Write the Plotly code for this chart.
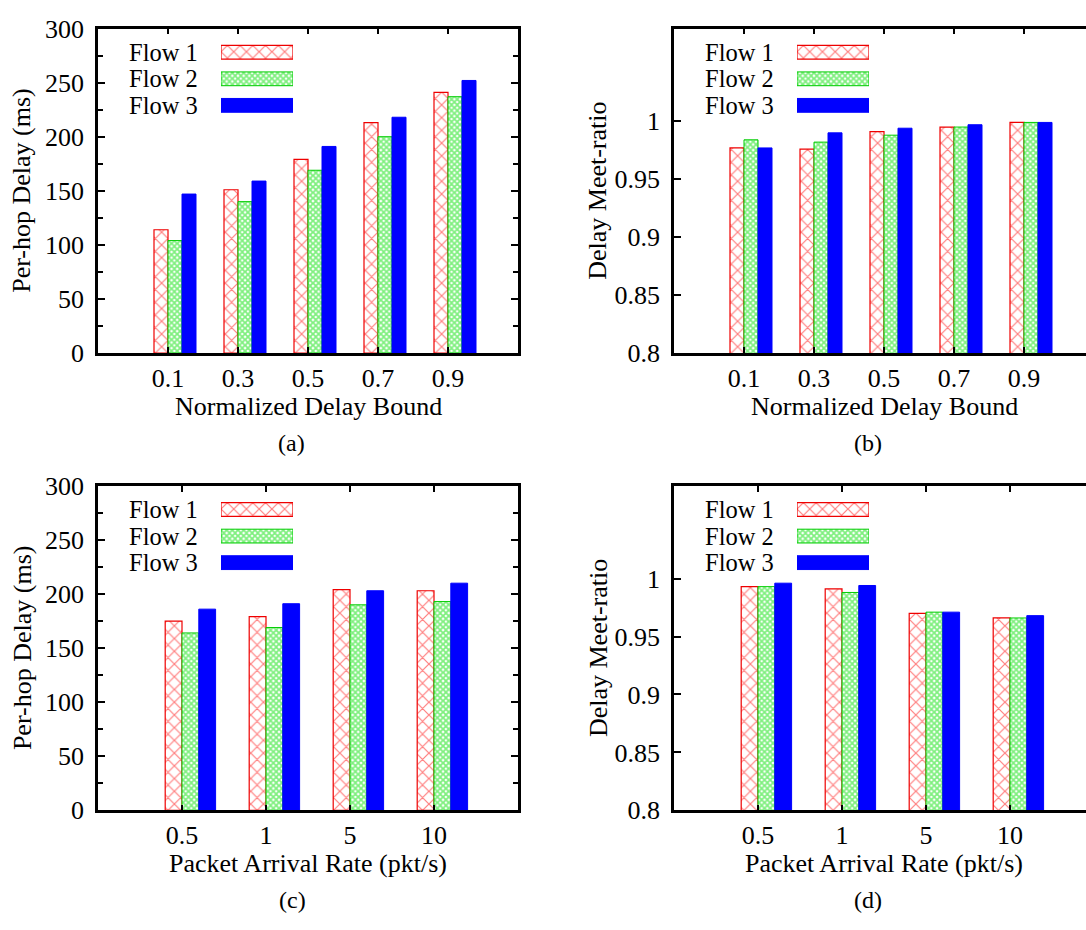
import plotly.graph_objects as go

W, H = 1086, 930
FONT = "Liberation Serif"
FS = 26
LEG_FS = 24.5

# ---------------- data ----------------
flow_names = ["Flow 1", "Flow 2", "Flow 3"]

bounds = ["0.1", "0.3", "0.5", "0.7", "0.9"]
a_flow1 = [114, 151, 179, 213, 241]
a_flow2 = [104, 140, 169, 200, 237]
a_flow3 = [147, 159, 191, 218, 252]

b_flow1 = [0.977, 0.976, 0.991, 0.995, 0.999]
b_flow2 = [0.984, 0.982, 0.988, 0.995, 0.999]
b_flow3 = [0.977, 0.990, 0.994, 0.997, 0.999]

rates = ["0.5", "1", "5", "10"]
c_flow1 = [175, 179, 204, 203]
c_flow2 = [164, 169, 190, 193]
c_flow3 = [186, 191, 203, 210]

d_flow1 = [0.993, 0.991, 0.970, 0.966]
d_flow2 = [0.993, 0.988, 0.971, 0.966]
d_flow3 = [0.996, 0.994, 0.971, 0.968]

delay_ticks = [0, 50, 100, 150, 200, 250, 300]
ratio_ticks = [0.8, 0.85, 0.9, 0.95, 1.0]
ratio_ticktext = ["0.8", "0.85", "0.9", "0.95", "1"]

# ---------------- styles ----------------
styles = [
    dict(color="white",
         pattern=dict(shape="x", fgcolor="#ff0000", bgcolor="white", size=9, solidity=0.25),
         line=dict(color="#ee0000", width=1.2)),
    dict(color="white",
         pattern=dict(shape="x", fgcolor="#00e000", bgcolor="white", size=4, solidity=0.7),
         line=dict(color="#00cc00", width=1)),
    dict(color="#0000ff", line=dict(color="#0000ff", width=1)),
]


def fx(px):
    return px / W


def fy(py):
    return 1 - py / H


panels = [
    dict(left=98, top=15, bottom=350, labels=bounds, series=[a_flow1, a_flow2, a_flow3],
         yrange=[0, 300], tickvals=delay_ticks, ticktext=[str(t) for t in delay_ticks], minor=25,
         ytitle="Per-hop Delay (ms)", xtitle="Normalized Delay Bound", caption="(a)",
         ytitle_x=22, caption_x=291, mirror_y=True),
    dict(left=674, top=15, bottom=350, labels=bounds, series=[b_flow1, b_flow2, b_flow3],
         yrange=[0.8, 1.08], tickvals=ratio_ticks, ticktext=ratio_ticktext, minor=None,
         ytitle="Delay Meet-ratio", xtitle="Normalized Delay Bound", caption="(b)",
         ytitle_x=598, caption_x=868, mirror_y=False),
    dict(left=98, top=487, bottom=822, labels=rates, series=[c_flow1, c_flow2, c_flow3],
         yrange=[0, 300], tickvals=delay_ticks, ticktext=[str(t) for t in delay_ticks], minor=25,
         ytitle="Per-hop Delay (ms)", xtitle="Packet Arrival Rate (pkt/s)", caption="(c)",
         ytitle_x=22, caption_x=292, mirror_y=True),
    dict(left=674, top=487, bottom=822, labels=rates, series=[d_flow1, d_flow2, d_flow3],
         yrange=[0.8, 1.08], tickvals=ratio_ticks, ticktext=ratio_ticktext, minor=None,
         ytitle="Delay Meet-ratio", xtitle="Packet Arrival Rate (pkt/s)", caption="(d)",
         ytitle_x=598, caption_x=868, mirror_y=False),
]

PLOT_W = 420  # full plot width in px (right panels are cropped by the page edge)

fig = go.Figure()
layout = dict(
    width=W, height=H, margin=dict(l=0, r=0, t=0, b=0),
    paper_bgcolor="white", plot_bgcolor="white",
    barmode="overlay", showlegend=False,
    font=dict(family=FONT, size=FS, color="black"),
)
annotations = []

for k, p in enumerate(panels):
    n = len(p["labels"])
    idx = k + 1
    xa = "x" if idx == 1 else f"x{idx}"
    ya = "y" if idx == 1 else f"y{idx}"
    right = min(p["left"] + PLOT_W, W)
    xmax = -1 + (n + 1) * (right - p["left"]) / PLOT_W
    for j, vals in enumerate(p["series"]):
        fig.add_trace(go.Bar(
            x=list(range(n)), y=vals, width=0.2, offset=-0.2 + 0.2 * j,
            marker=styles[j], name=flow_names[j], xaxis=xa, yaxis=ya,
            showlegend=False, hoverinfo="x+y",
        ))
    axkey = "xaxis" if idx == 1 else f"xaxis{idx}"
    aykey = "yaxis" if idx == 1 else f"yaxis{idx}"
    layout[axkey] = dict(
        domain=[fx(p["left"]), fx(right)], anchor=ya, range=[-1, xmax],
        tickvals=list(range(n)), ticktext=p["labels"],
        ticks="inside", ticklen=6, tickwidth=2, tickcolor="black",
        showline=True, linewidth=2.5, linecolor="black", mirror="ticks",
        showgrid=False, zeroline=False, ticklabelstandoff=0,
        tickfont=dict(family=FONT, size=FS),
    )
    ydict = dict(
        domain=[fy(p["bottom"]), fy(p["top"])], anchor=xa, range=p["yrange"],
        tickvals=p["tickvals"], ticktext=p["ticktext"],
        ticks="inside", ticklen=7, tickwidth=2, tickcolor="black",
        showline=True, linewidth=2.5, linecolor="black",
        mirror="ticks" if p["mirror_y"] else False,
        showgrid=False, zeroline=False, ticklabelstandoff=6,
        tickfont=dict(family=FONT, size=FS),
    )
    if p["minor"]:
        ydict["minor"] = dict(dtick=p["minor"], ticks="inside", ticklen=5, tickwidth=1.5,
                              tickcolor="black", showgrid=False)
    layout[aykey] = ydict

    # axis titles and caption
    mid_y = (p["top"] + p["bottom"]) / 2
    annotations.append(dict(text=p["ytitle"], x=fx(p["ytitle_x"]), y=fy(mid_y), xref="paper", yref="paper",
                            textangle=-90, showarrow=False, xanchor="center", yanchor="middle",
                            font=dict(family=FONT, size=FS)))
    annotations.append(dict(text=p["xtitle"], x=fx(p["left"] + PLOT_W / 2), y=fy(p["bottom"] + 55),
                            xref="paper", yref="paper", showarrow=False, xanchor="center",
                            yanchor="middle", font=dict(family=FONT, size=FS)))
    annotations.append(dict(text=p["caption"], x=fx(p["caption_x"]), y=fy(p["bottom"] + 93),
                            xref="paper", yref="paper", showarrow=False, xanchor="center",
                            yanchor="middle", font=dict(family=FONT, size=24)))

    # custom gnuplot-style key: text then sample swatch
    lidx = idx + 4
    lxa, lya = f"x{lidx}", f"y{lidx}"
    row_h = 27.4
    row0 = p["top"] + 24.5
    for j, name in enumerate(flow_names):
        annotations.append(dict(text=name, x=fx(p["left"] + 30), y=fy(row0 + j * row_h),
                                xref="paper", yref="paper", showarrow=False, xanchor="left",
                                yanchor="middle", borderpad=0, valign="middle",
                                font=dict(family=FONT, size=LEG_FS)))
        fig.add_trace(go.Bar(
            x=[1], y=[j], orientation="h", width=0.52, marker=styles[j], name=name,
            xaxis=lxa, yaxis=lya, showlegend=False, hoverinfo="name",
        ))
    layout[f"xaxis{lidx}"] = dict(domain=[fx(p["left"] + 123), fx(p["left"] + 195)], range=[0, 1],
                                  anchor=lya, visible=False, fixedrange=True)
    layout[f"yaxis{lidx}"] = dict(domain=[fy(row0 + 2.5 * row_h), fy(row0 - 0.5 * row_h)],
                                  range=[2.5, -0.5], anchor=lxa, visible=False, fixedrange=True)

layout["annotations"] = annotations
fig.update_layout(**layout)
fig.write_html("out.html")
